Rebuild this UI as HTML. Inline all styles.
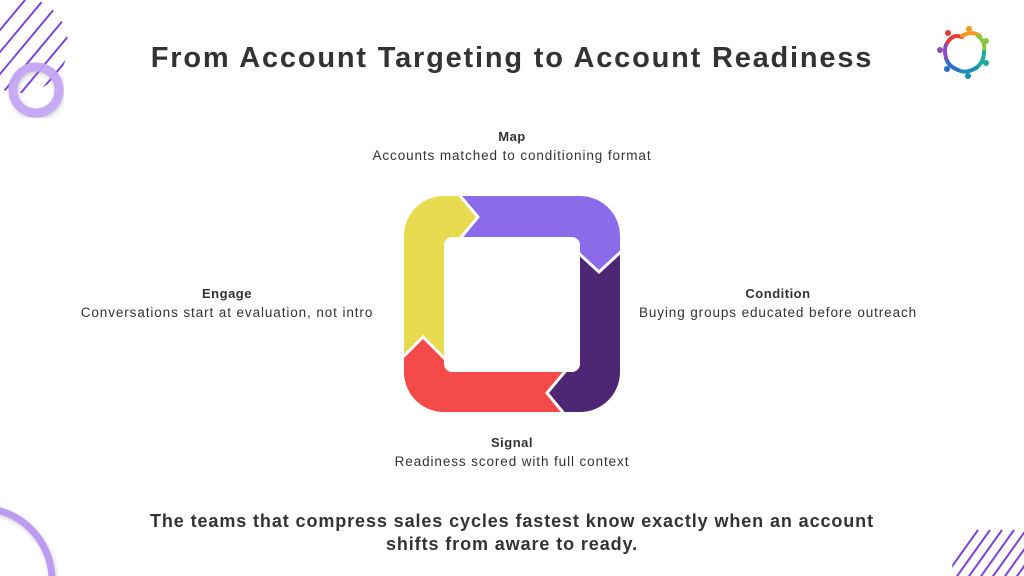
<!DOCTYPE html>
<html><head><meta charset="utf-8"><style>
html,body{margin:0;width:1024px;height:576px;overflow:hidden}
body{background:#fff;position:relative;font-family:"Liberation Sans",sans-serif;color:#333}
.t{position:absolute;text-align:center;white-space:nowrap}
h1{position:absolute;left:0;width:1024px;top:42px;margin:0;text-align:center;font-size:29px;font-weight:bold;color:#333;letter-spacing:1.8px}
.lb{font-weight:bold;font-size:13px;line-height:20px;letter-spacing:0.5px}
.ds{font-size:13.5px;line-height:18px;letter-spacing:0.9px}
</style></head><body>
<svg width="1024" height="576" style="position:absolute;left:0;top:0">
<defs>
<clipPath id="c1"><circle cx="20" cy="45" r="48"/></clipPath>
<clipPath id="c2"><circle cx="1000" cy="570" r="48"/></clipPath>
<clipPath id="ring"><path fill-rule="evenodd" clip-rule="evenodd" d="M444,196 H580 A40,40 0 0 1 620,236 V372 A40,40 0 0 1 580,412 H444 A40,40 0 0 1 404,372 V236 A40,40 0 0 1 444,196 Z M452,237 H572 A8,8 0 0 1 580,245 V364 A8,8 0 0 1 572,372 H452 A8,8 0 0 1 444,364 V245 A8,8 0 0 1 452,237 Z"/></clipPath>
<filter id="sh"><feDropShadow dx="1" dy="2" stdDeviation="2" flood-color="#888" flood-opacity="0.4"/></filter>
</defs>
<g clip-path="url(#c1)" stroke="#7b45d9" stroke-width="2">
<line x1="-40" y1="100" x2="60" y2="-20"/><line x1="-30" y1="110" x2="70" y2="-10"/><line x1="-20" y1="120" x2="80" y2="0"/><line x1="-10" y1="130" x2="90" y2="10"/><line x1="0" y1="140" x2="100" y2="20"/><line x1="10" y1="150" x2="110" y2="30"/><line x1="-50" y1="90" x2="50" y2="-30"/>
</g>
<circle cx="36" cy="90" r="23" fill="none" stroke="#c3a6f6" stroke-width="9" filter="url(#sh)" opacity="0.95"/>
<circle cx="-20" cy="580" r="72" fill="none" stroke="#bb9cf2" stroke-width="7" filter="url(#sh)"/>
<g clip-path="url(#c2)" stroke="#7b45d9" stroke-width="2">
<line x1="940" y1="600" x2="990" y2="530"/><line x1="952" y1="600" x2="1002" y2="530"/><line x1="964" y1="600" x2="1014" y2="530"/><line x1="976" y1="600" x2="1026" y2="530"/><line x1="988" y1="600" x2="1038" y2="530"/><line x1="1000" y1="600" x2="1050" y2="530"/><line x1="928" y1="600" x2="978" y2="530"/>
</g>
<g clip-path="url(#ring)">
<polygon fill="#e8da4e" points="380,180 456,180 456,191 478,217 458,241 448,241 448,362 423,337 398,362 380,362"/>
<polygon fill="#8c6bea" points="456,180 640,180 640,248 625,248 599,272 574,249 574,241 458,241 478,217 456,191"/>
<polygon fill="#4d2773" points="640,248 640,430 566,430 566,416 547,393 568,368 576,368 574,249 599,272 625,248"/>
<polygon fill="#f54a4a" points="380,362 398,362 423,337 448,362 448,368 568,368 547,393 566,416 566,430 380,430"/>
<g fill="none" stroke="#fff" stroke-width="3">
<polyline points="456,191 478,217 458,241"/><polyline points="625,248 599,272 574,249"/><polyline points="568,368 547,393 566,416"/><polyline points="398,362 423,337 448,362"/>
</g>
</g>
<g fill="none" stroke-width="4" stroke-linecap="round">
<path d="M946,45 q6,-12 16,-8" stroke="#e63a3a"/><path d="M962,36 q10,-6 18,0" stroke="#f39a1e"/><path d="M978,36 q8,6 6,16" stroke="#8cc63f"/><path d="M984,52 q0,10 -8,16" stroke="#1aa99a"/><path d="M976,68 q-10,6 -18,2" stroke="#1a8fb3"/><path d="M958,70 q-10,-4 -12,-12" stroke="#2b6cc4"/><path d="M946,58 q-2,-8 0,-13" stroke="#8b4bb8"/>
</g>
<g><circle cx="948" cy="33" r="3" fill="#e63a3a"/><circle cx="969" cy="29" r="3" fill="#f39a1e"/><circle cx="986" cy="41" r="3" fill="#8cc63f"/><circle cx="986" cy="63" r="3" fill="#1aa99a"/><circle cx="968" cy="76" r="3" fill="#1a8fb3"/><circle cx="947" cy="69" r="3" fill="#2b6cc4"/><circle cx="940" cy="50" r="3" fill="#8b4bb8"/></g>
</svg>
<h1>From Account Targeting to Account Readiness</h1>
<div class="t" style="left:262px;width:500px;top:127px"><div class="lb">Map</div><div class="ds">Accounts matched to conditioning format</div></div>
<div class="t" style="left:-23px;width:500px;top:284px"><div class="lb">Engage</div><div class="ds">Conversations start at evaluation, not intro</div></div>
<div class="t" style="left:528px;width:500px;top:284px"><div class="lb">Condition</div><div class="ds">Buying groups educated before outreach</div></div>
<div class="t" style="left:262px;width:500px;top:433px"><div class="lb">Signal</div><div class="ds">Readiness scored with full context</div></div>
<div class="t" style="left:0;width:1024px;top:510px;font-weight:bold;font-size:18px;line-height:23px;letter-spacing:0.9px">The teams that compress sales cycles fastest know exactly when an account<br>shifts from aware to ready.</div>
</body></html>
